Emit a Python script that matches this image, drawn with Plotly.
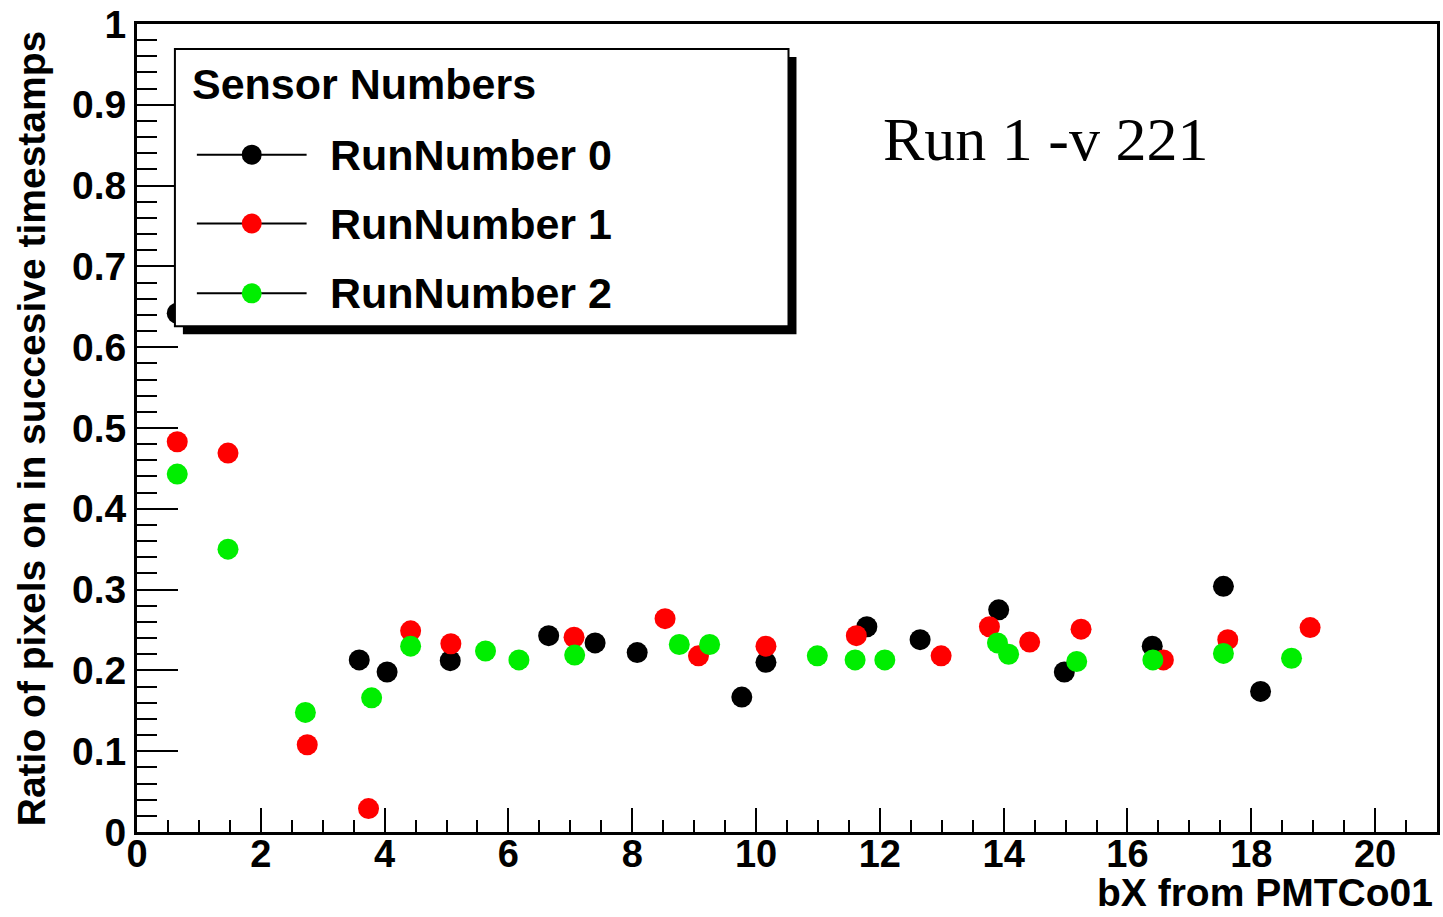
import plotly.graph_objects as go

# ---- data ----
run0_x = [0.65, 3.59, 4.04, 5.06, 6.65, 7.40, 8.08, 9.77, 10.16, 11.79, 12.65, 13.92, 14.98, 16.40, 17.55, 18.15]
run0_y = [0.642, 0.213, 0.198, 0.212, 0.243, 0.234, 0.222, 0.167, 0.210, 0.254, 0.238, 0.275, 0.198, 0.230, 0.304, 0.174]

run1_x = [0.65, 1.47, 2.75, 3.74, 4.42, 5.07, 7.06, 8.53, 9.07, 10.16, 11.62, 12.99, 13.77, 14.42, 15.25, 16.58, 17.62, 18.95]
run1_y = [0.483, 0.469, 0.108, 0.029, 0.249, 0.233, 0.241, 0.264, 0.218, 0.230, 0.243, 0.218, 0.254, 0.235, 0.251, 0.213, 0.238, 0.253]

run2_x = [0.65, 1.47, 2.72, 3.79, 4.42, 5.63, 6.17, 7.07, 8.76, 9.25, 10.99, 11.60, 12.08, 13.90, 14.08, 15.18, 16.41, 17.55, 18.65]
run2_y = [0.443, 0.350, 0.148, 0.166, 0.230, 0.224, 0.213, 0.219, 0.232, 0.232, 0.218, 0.213, 0.213, 0.234, 0.220, 0.211, 0.213, 0.221, 0.215]

series_names = ["RunNumber 0", "RunNumber 1", "RunNumber 2"]
series_colors = ["#000000", "#ff0000", "#00ee00"]
x_tick_vals = [0, 2, 4, 6, 8, 10, 12, 14, 16, 18, 20]
y_tick_vals = [0, 0.1, 0.2, 0.3, 0.4, 0.5, 0.6, 0.7, 0.8, 0.9, 1]
y_tick_text = ["0", "0.1", "0.2", "0.3", "0.4", "0.5", "0.6", "0.7", "0.8", "0.9", "1"]

# ---- layout geometry ----
W, H = 1443, 917
L, R, T, B = 137, 3, 22, 85
PW, PH = W - L - R, H - T - B


def px(xp):
    return (xp - L) / PW


def py(yp):
    return (H - B - yp) / PH


FONT = "Liberation Sans"

fig = go.Figure()
for xs, ys, name, col in zip([run0_x, run1_x, run2_x], [run0_y, run1_y, run2_y], series_names, series_colors):
    fig.add_trace(go.Scatter(x=xs, y=ys, mode="markers", name=name, showlegend=False,
                             marker=dict(size=21, color=col, line=dict(width=0))))

shapes = []
annotations = []

# legend box with shadow
shapes.append(dict(type="rect", xref="paper", yref="paper", x0=px(183), x1=px(798), y0=py(333), y1=py(55),
                   fillcolor="black", line=dict(width=0), layer="above"))
shapes.append(dict(type="rect", xref="paper", yref="paper", x0=px(175), x1=px(790), y0=py(325), y1=py(47),
                   fillcolor="white", line=dict(color="black", width=2), layer="above"))
annotations.append(dict(xref="paper", yref="paper", x=px(190), y=py(82), xanchor="left", yanchor="middle",
                        text="Sensor Numbers", showarrow=False,
                        font=dict(family=FONT, size=43, color="black", weight="bold")))
for i, (name, col) in enumerate(zip(series_names, series_colors)):
    yc = [153, 222, 292][i]
    shapes.append(dict(type="line", xref="paper", yref="paper", x0=px(197), x1=px(307), y0=py(yc), y1=py(yc),
                       line=dict(color="black", width=2), layer="above"))
    r = 10
    shapes.append(dict(type="circle", xref="paper", yref="paper", x0=px(252 - r), x1=px(252 + r),
                       y0=py(yc + r), y1=py(yc - r), fillcolor=col, line=dict(width=0), layer="above"))
    annotations.append(dict(xref="paper", yref="paper", x=px(328), y=py(yc), xanchor="left", yanchor="middle",
                            text=name, showarrow=False,
                            font=dict(family=FONT, size=43, color="black", weight="bold")))

# free text
annotations.append(dict(xref="paper", yref="paper", x=px(1048), y=py(137), xanchor="center", yanchor="middle",
                        text="Run 1 -v 221", showarrow=False,
                        font=dict(family="Liberation Serif", size=62, color="black")))
# axis titles
annotations.append(dict(xref="paper", yref="paper", x=px(1438), y=py(893), xanchor="right", yanchor="middle",
                        text="bX from PMTCo01", showarrow=False,
                        font=dict(family=FONT, size=39, color="black", weight="bold")))
annotations.append(dict(xref="paper", yref="paper", x=px(32), y=py(428), xanchor="center", yanchor="middle",
                        text="Ratio of pixels on in succesive timestamps", textangle=-90, showarrow=False,
                        font=dict(family=FONT, size=39, color="black", weight="bold")))

fig.update_layout(
    width=W, height=H,
    margin=dict(l=L, r=R, t=T, b=B),
    paper_bgcolor="white", plot_bgcolor="white",
    shapes=shapes, annotations=annotations,
    showlegend=False,
    xaxis=dict(range=[0, 21], tickvals=x_tick_vals, ticks="inside", ticklen=24, tickwidth=2,
               tickcolor="black", showline=True, linecolor="black", linewidth=3, mirror=True,
               showgrid=False, zeroline=False,
               tickfont=dict(family=FONT, size=38, color="black", weight="bold"),
               ticklabelstandoff=-14,
               minor=dict(dtick=0.5, tick0=0, ticks="inside", ticklen=12, tickwidth=2, tickcolor="black",
                          showgrid=False)),
    yaxis=dict(range=[0, 1], tickvals=y_tick_vals, ticktext=y_tick_text, ticks="inside", ticklen=41,
               tickwidth=2, tickcolor="black", showline=True, linecolor="black", linewidth=3, mirror=True,
               showgrid=False, zeroline=False,
               tickfont=dict(family=FONT, size=39, color="black", weight="bold"),
               ticklabelstandoff=0,
               minor=dict(dtick=0.02, tick0=0, ticks="inside", ticklen=20, tickwidth=2, tickcolor="black",
                          showgrid=False)),
)

fig.write_html("out.html")
